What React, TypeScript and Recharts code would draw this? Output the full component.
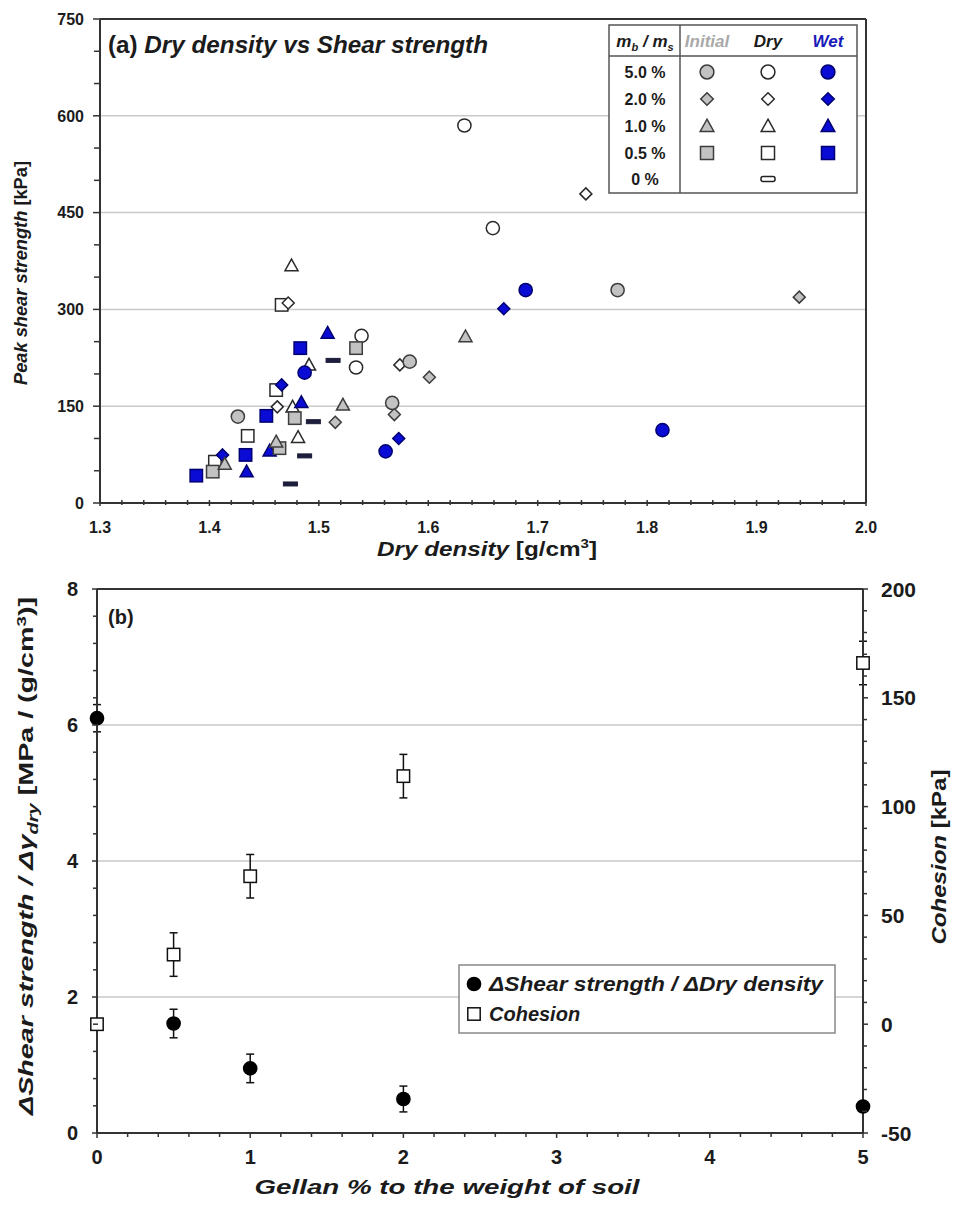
import React from 'react';
import { ScatterChart, Scatter, XAxis, YAxis, ReferenceLine, ErrorBar } from 'recharts';

// ---------- Panel (a): [dry density (g/cm3), peak shear strength (kPa)] ----------
const initial5: [number, number][] = [[1.426, 134], [1.567, 155], [1.583, 219], [1.773, 330]];
const dry5: [number, number][] = [[1.633, 585], [1.659, 426], [1.539, 259], [1.534, 210]];
const wet5: [number, number][] = [[1.487, 202], [1.561, 80], [1.689, 330], [1.814, 113]];
const initial2: [number, number][] = [[1.515, 125], [1.569, 137], [1.601, 195], [1.939, 319]];
const dry2: [number, number][] = [[1.744, 479], [1.574, 214], [1.462, 149], [1.472, 310]];
const wet2: [number, number][] = [[1.412, 74.5], [1.466, 183], [1.573, 100], [1.669, 301]];
const initial1: [number, number][] = [[1.414, 60.5], [1.461, 95], [1.522, 152], [1.634, 258]];
const dry1: [number, number][] = [[1.475, 368], [1.491, 214], [1.476, 149], [1.481, 102]];
const wet1: [number, number][] = [[1.434, 48.6], [1.455, 81], [1.484, 156], [1.508, 263.5]];
const initial05: [number, number][] = [[1.403, 48.6], [1.464, 85], [1.478, 131.5], [1.534, 240]];
const dry05: [number, number][] = [[1.405, 64], [1.435, 104], [1.461, 175], [1.466, 307]];
const wet05: [number, number][] = [[1.388, 42.4], [1.433, 74.5], [1.452, 135], [1.483, 240]];
const dry0: [number, number][] = [[1.474, 29.5], [1.487, 73], [1.495, 126], [1.513, 221]];

const xTicksA = [1.3, 1.4, 1.5, 1.6, 1.7, 1.8, 1.9, 2.0];
const yTicksA = [0, 150, 300, 450, 600, 750];
const gridA = [150, 300, 450, 600];
const legendRowsA = ['5.0 %', '2.0 %', '1.0 %', '0.5 %', '0 %'];

// ---------- Panel (b) ----------
const gellan = [0, 0.5, 1, 2, 5];
const slope = [6.1, 1.61, 0.95, 0.5, 0.39];
const slopeErr = [0.2, 0.21, 0.21, 0.19, 0];
const cohesion = [0, 32, 68, 114, 166];
const cohesionErr = [0, 10, 10, 10, 10];

const xTicksB = [0, 1, 2, 3, 4, 5];
const yTicksBL = [0, 2, 4, 6, 8];
const yTicksBR = [-50, 0, 50, 100, 150, 200];
const gridB = [2, 4, 6];

// ---------- styles ----------
const NARROW = "'Liberation Sans Narrow', 'Arial Narrow', 'Liberation Sans', Arial, sans-serif";
const SANS = "'Liberation Sans', Arial, sans-serif";
const INK = '#1b1b1b';
const AXIS = '#333333';
const GRID = '#c9c9c9';
const BLUE = '#0b0bd6';
const BLUE_EDGE = '#000070';
const GRAY = '#c2c2c2';
const GRAY_EDGE = '#3c3c3c';
const WHITE = '#ffffff';
const WHITE_EDGE = '#2a2a2a';

const subdivide = (majors: number[], n: number) => {
  const out: number[] = [];
  for (let i = 0; i < majors.length - 1; i++) {
    const a = majors[i], b = majors[i + 1];
    for (let k = 0; k < n; k++) out.push(+(a + ((b - a) * k) / n).toFixed(6));
  }
  out.push(majors[majors.length - 1]);
  return out;
};

const toPts = (arr: [number, number][]) => arr.map(([x, y]) => ({ x, y }));

type Kind = 'circle' | 'square' | 'diamond' | 'triangle' | 'dash';

function glyph(kind: Kind, cx: number, cy: number, fill: string, stroke: string, s = 1) {
  const sw = 1.5;
  switch (kind) {
    case 'circle':
      return <circle cx={cx} cy={cy} r={6.6 * s} fill={fill} stroke={stroke} strokeWidth={sw} />;
    case 'square':
      return <rect x={cx - 6.2 * s} y={cy - 6.2 * s} width={12.4 * s} height={12.4 * s} fill={fill} stroke={stroke} strokeWidth={sw} />;
    case 'diamond': {
      const r = 6 * s;
      return <path d={`M${cx},${cy - r}L${cx + r},${cy}L${cx},${cy + r}L${cx - r},${cy}Z`} fill={fill} stroke={stroke} strokeWidth={sw} />;
    }
    case 'triangle': {
      const r = 6.5 * s;
      return <path d={`M${cx},${cy - r}L${cx + r},${cy + r * 0.8}L${cx - r},${cy + r * 0.8}Z`} fill={fill} stroke={stroke} strokeWidth={sw} strokeLinejoin="miter" />;
    }
    case 'dash':
    default:
      return <rect x={cx - 7} y={cy - 2} width={14} height={4} fill={fill} stroke={stroke} strokeWidth={1} />;
  }
}

const shape = (kind: Kind, fill: string, stroke: string) => (props: any) => {
  const { cx, cy } = props;
  if (cx == null || cy == null) return <g />;
  return glyph(kind, cx, cy, fill, stroke);
};

const isIn = (v: number, arr: number[]) => arr.some((m) => Math.abs(m - v) < 1e-7);

type TickOpts = {
  side: 'bottom' | 'left' | 'right';
  majors: number[];
  fmt: (v: number) => string;
  font: string;
  size: number;
  out: number;
  inn: number;
  gap: number;
};

function makeTick(o: TickOpts) {
  return function Tick(props: any) {
    const { x, y, payload } = props;
    const v = payload.value as number;
    const major = isIn(v, o.majors);
    const out = major ? o.out : o.out - 1;
    const inn = o.inn;
    const txt = { fontFamily: o.font, fontSize: o.size, fontWeight: 700, fill: INK } as any;
    if (o.side === 'bottom') {
      return (
        <g>
          <line x1={x} x2={x} y1={y - inn} y2={y + out} stroke={AXIS} strokeWidth={1.5} />
          {major && (
            <text x={x} y={y + o.gap} textAnchor="middle" {...txt}>
              {o.fmt(v)}
            </text>
          )}
        </g>
      );
    }
    if (o.side === 'left') {
      return (
        <g>
          <line x1={x - out} x2={x + inn} y1={y} y2={y} stroke={AXIS} strokeWidth={1.5} />
          {major && (
            <text x={x - o.gap} y={y + o.size * 0.36} textAnchor="end" {...txt}>
              {o.fmt(v)}
            </text>
          )}
        </g>
      );
    }
    return (
      <g>
        <line x1={x - inn} x2={x + out} y1={y} y2={y} stroke={AXIS} strokeWidth={1.5} />
        {major && (
          <text x={x + o.gap} y={y + o.size * 0.36} textAnchor="start" {...txt}>
            {o.fmt(v)}
          </text>
        )}
      </g>
    );
  };
}

const axisLine = { stroke: AXIS, strokeWidth: 2 };

function PanelA() {
  const series: { data: [number, number][]; kind: Kind; fill: string; stroke: string; name: string }[] = [
    { data: dry05, kind: 'square', fill: WHITE, stroke: WHITE_EDGE, name: 'Dry 0.5%' },
    { data: dry1, kind: 'triangle', fill: WHITE, stroke: WHITE_EDGE, name: 'Dry 1.0%' },
    { data: dry2, kind: 'diamond', fill: WHITE, stroke: WHITE_EDGE, name: 'Dry 2.0%' },
    { data: dry5, kind: 'circle', fill: WHITE, stroke: WHITE_EDGE, name: 'Dry 5.0%' },
    { data: dry0, kind: 'dash', fill: '#1d1d3c', stroke: '#1d1d3c', name: 'Dry 0%' },
    { data: wet05, kind: 'square', fill: BLUE, stroke: BLUE_EDGE, name: 'Wet 0.5%' },
    { data: wet1, kind: 'triangle', fill: BLUE, stroke: BLUE_EDGE, name: 'Wet 1.0%' },
    { data: wet2, kind: 'diamond', fill: BLUE, stroke: BLUE_EDGE, name: 'Wet 2.0%' },
    { data: wet5, kind: 'circle', fill: BLUE, stroke: BLUE_EDGE, name: 'Wet 5.0%' },
    { data: initial05, kind: 'square', fill: GRAY, stroke: GRAY_EDGE, name: 'Initial 0.5%' },
    { data: initial1, kind: 'triangle', fill: GRAY, stroke: GRAY_EDGE, name: 'Initial 1.0%' },
    { data: initial2, kind: 'diamond', fill: GRAY, stroke: GRAY_EDGE, name: 'Initial 2.0%' },
    { data: initial5, kind: 'circle', fill: GRAY, stroke: GRAY_EDGE, name: 'Initial 5.0%' },
  ];
  return (
    <ScatterChart width={958} height={560} margin={{ top: 19, right: 92, bottom: 17, left: 40 }}>
      {gridA.map((g) => (
        <ReferenceLine key={g} y={g} stroke={GRID} strokeWidth={1.5} />
      ))}
      <ReferenceLine y={750} stroke={AXIS} strokeWidth={2} />
      <ReferenceLine x={2.0} stroke={AXIS} strokeWidth={2} />
      <XAxis
        type="number"
        dataKey="x"
        domain={[1.3, 2.0]}
        ticks={subdivide(xTicksA, 5)}
        interval={0}
        height={40}
        tickSize={0}
        tickMargin={0}
        tickLine={false}
        axisLine={axisLine}
        tick={makeTick({ side: 'bottom', majors: xTicksA, fmt: (v) => v.toFixed(1), font: NARROW, size: 16, out: 3, inn: 3, gap: 30 })}
      />
      <YAxis
        type="number"
        dataKey="y"
        domain={[0, 750]}
        ticks={subdivide(yTicksA, 3)}
        interval={0}
        width={60}
        tickSize={0}
        tickMargin={0}
        tickLine={false}
        axisLine={axisLine}
        tick={makeTick({ side: 'left', majors: yTicksA, fmt: (v) => String(v), font: NARROW, size: 16, out: 7, inn: 0, gap: 16 })}
      />
      {series.map((s) => (
        <Scatter key={s.name} name={s.name} data={toPts(s.data)} isAnimationActive={false} shape={shape(s.kind, s.fill, s.stroke)} />
      ))}
    </ScatterChart>
  );
}

function PanelB() {
  const slopeData = gellan.map((g, i) => ({ x: g, y: slope[i], err: slopeErr[i] }));
  const cohData = gellan.map((g, i) => ({ x: g, y: cohesion[i], err: cohesionErr[i] }));
  return (
    <ScatterChart width={958} height={645} margin={{ top: 29, right: 35, bottom: 22, left: 37 }}>
      {gridB.map((g) => (
        <ReferenceLine key={g} yAxisId="L" y={g} stroke={GRID} strokeWidth={1.5} />
      ))}
      <ReferenceLine yAxisId="L" y={8} stroke={AXIS} strokeWidth={2} />
      <XAxis
        type="number"
        dataKey="x"
        domain={[0, 5]}
        ticks={subdivide(xTicksB, 5)}
        interval={0}
        height={50}
        tickSize={0}
        tickMargin={0}
        tickLine={false}
        axisLine={axisLine}
        tick={makeTick({ side: 'bottom', majors: xTicksB, fmt: (v) => String(v), font: SANS, size: 20, out: 5, inn: 1, gap: 31 })}
      />
      <YAxis
        yAxisId="L"
        type="number"
        dataKey="y"
        domain={[0, 8]}
        ticks={subdivide(yTicksBL, 5)}
        interval={0}
        width={60}
        tickSize={0}
        tickMargin={0}
        tickLine={false}
        axisLine={axisLine}
        tick={makeTick({ side: 'left', majors: yTicksBL, fmt: (v) => String(v), font: SANS, size: 20, out: 5, inn: 1, gap: 19 })}
      />
      <YAxis
        yAxisId="R"
        orientation="right"
        type="number"
        dataKey="y"
        domain={[-50, 200]}
        ticks={subdivide(yTicksBR, 5)}
        interval={0}
        width={60}
        tickSize={0}
        tickMargin={0}
        tickLine={false}
        axisLine={axisLine}
        tick={makeTick({ side: 'right', majors: yTicksBR, fmt: (v) => String(v), font: SANS, size: 21, out: 5, inn: 1, gap: 18 })}
      />
      <Scatter name="Cohesion" yAxisId="R" data={cohData} isAnimationActive={false} shape={shape('square', WHITE, '#111111')}>
        <ErrorBar dataKey="err" direction="y" width={4} stroke="#111111" strokeWidth={1.5} isAnimationActive={false} />
      </Scatter>
      <Scatter name="ΔShear strength / ΔDry density" yAxisId="L" data={slopeData} isAnimationActive={false} shape={shape('circle', '#000000', '#000000')}>
        <ErrorBar dataKey="err" direction="y" width={4} stroke="#111111" strokeWidth={1.5} isAnimationActive={false} />
      </Scatter>
    </ScatterChart>
  );
}

function Overlay() {
  const bold = { fontWeight: 700, fill: INK } as any;
  const rowsY = [72, 99, 126, 153, 179];
  const kinds: Kind[] = ['circle', 'diamond', 'triangle', 'square'];
  const colX = { label: 645, initial: 707, dry: 768, wet: 828 };
  return (
    <svg width={958} height={1205} style={{ position: 'absolute', left: 0, top: 0, pointerEvents: 'none' }}>
      {/* Panel (a) texts */}
      <text x={108} y={53} fontFamily={NARROW} fontSize={23} textLength={380} lengthAdjust="spacingAndGlyphs" {...bold}>
        (a) <tspan fontStyle="italic">Dry density vs Shear strength</tspan>
      </text>
      <text transform="translate(27,273) rotate(-90)" textAnchor="middle" fontFamily={NARROW} fontSize={19} textLength={224} lengthAdjust="spacingAndGlyphs" {...bold}>
        <tspan fontStyle="italic">Peak shear strength</tspan> [kPa]
      </text>
      <text x={487} y={556} textAnchor="middle" fontFamily={NARROW} fontSize={21} textLength={220} lengthAdjust="spacingAndGlyphs" {...bold}>
        <tspan fontStyle="italic">Dry density</tspan> [g/cm<tspan fontSize={13} dy={-8}>3</tspan>
        <tspan dy={8}>]</tspan>
      </text>

      {/* Panel (a) legend table */}
      <rect x={609} y={25} width={248} height={168} fill="#ffffff" stroke="#555" strokeWidth={1.5} />
      <line x1={680} x2={680} y1={25} y2={193} stroke="#555" strokeWidth={1.5} />
      <line x1={609} x2={857} y1={56} y2={56} stroke="#555" strokeWidth={1.5} />
      <text x={colX.label} y={47} textAnchor="middle" fontFamily={NARROW} fontSize={17} fontStyle="italic" {...bold}>
        m<tspan fontSize={11} dy={4}>b</tspan>
        <tspan dy={-4}> / m</tspan>
        <tspan fontSize={11} dy={4}>s</tspan>
      </text>
      <text x={colX.initial} y={47} textAnchor="middle" fontFamily={NARROW} fontSize={17} fontStyle="italic" fontWeight={700} fill="#a9a9a9">
        Initial
      </text>
      <text x={colX.dry} y={47} textAnchor="middle" fontFamily={NARROW} fontSize={17} fontStyle="italic" {...bold}>
        Dry
      </text>
      <text x={colX.wet} y={47} textAnchor="middle" fontFamily={NARROW} fontSize={17} fontStyle="italic" fontWeight={700} fill="#1a1ab8">
        Wet
      </text>
      {legendRowsA.map((r, i) => (
        <text key={r} x={colX.label} y={rowsY[i] + 6} textAnchor="middle" fontFamily={NARROW} fontSize={16} {...bold}>
          {r}
        </text>
      ))}
      {kinds.map((k, i) => (
        <g key={k}>
          {glyph(k, colX.initial, rowsY[i], GRAY, GRAY_EDGE, 1.05)}
          {glyph(k, colX.dry, rowsY[i], WHITE, WHITE_EDGE, 1.05)}
          {glyph(k, colX.wet, rowsY[i], BLUE, BLUE_EDGE, 1.05)}
        </g>
      ))}
      <rect x={colX.dry - 7} y={rowsY[4] - 2.5} width={14} height={5} rx={2} fill="#fff" stroke="#222" strokeWidth={1.5} />

      {/* Panel (b) texts */}
      <text x={108} y={624} fontFamily={SANS} fontSize={20} {...bold}>
        (b)
      </text>
      <text transform="translate(33,856) rotate(-90)" textAnchor="middle" fontFamily={SANS} fontSize={20} textLength={518} lengthAdjust="spacingAndGlyphs" {...bold}>
        <tspan fontStyle="italic">ΔShear strength / Δγ</tspan>
        <tspan fontStyle="italic" fontSize={14} dy={5}>dry</tspan>
        <tspan dy={-5}> [MPa / (g/cm</tspan>
        <tspan fontSize={13} dy={-7}>3</tspan>
        <tspan dy={7}>)]</tspan>
      </text>
      <text transform="translate(946,857) rotate(-90)" textAnchor="middle" fontFamily={SANS} fontSize={21} textLength={175} lengthAdjust="spacingAndGlyphs" {...bold}>
        <tspan fontStyle="italic">Cohesion</tspan> [kPa]
      </text>
      <text x={447} y={1194} textAnchor="middle" fontFamily={SANS} fontSize={21} fontStyle="italic" textLength={385} lengthAdjust="spacingAndGlyphs" {...bold}>
        Gellan % to the weight of soil
      </text>

      {/* Panel (b) legend */}
      <rect x={459} y={965} width={376} height={68} fill="#ffffff" stroke="#888" strokeWidth={1.5} />
      {glyph('circle', 474, 984, '#000', '#000')}
      {glyph('square', 474, 1014, WHITE, '#111')}
      <text x={489} y={991} fontFamily={SANS} fontSize={20} fontStyle="italic" textLength={334} lengthAdjust="spacingAndGlyphs" {...bold}>
        ΔShear strength / ΔDry density
      </text>
      <text x={489} y={1021} fontFamily={SANS} fontSize={20} fontStyle="italic" {...bold}>
        Cohesion
      </text>
    </svg>
  );
}

export default function App() {
  return (
    <div style={{ position: 'absolute', left: 0, top: 0, width: 958, height: 1205, background: '#fff' }}>
      <div style={{ position: 'absolute', left: 0, top: 0 }}>
        <PanelA />
      </div>
      <div style={{ position: 'absolute', left: 0, top: 560 }}>
        <PanelB />
      </div>
      <Overlay />
    </div>
  );
}
